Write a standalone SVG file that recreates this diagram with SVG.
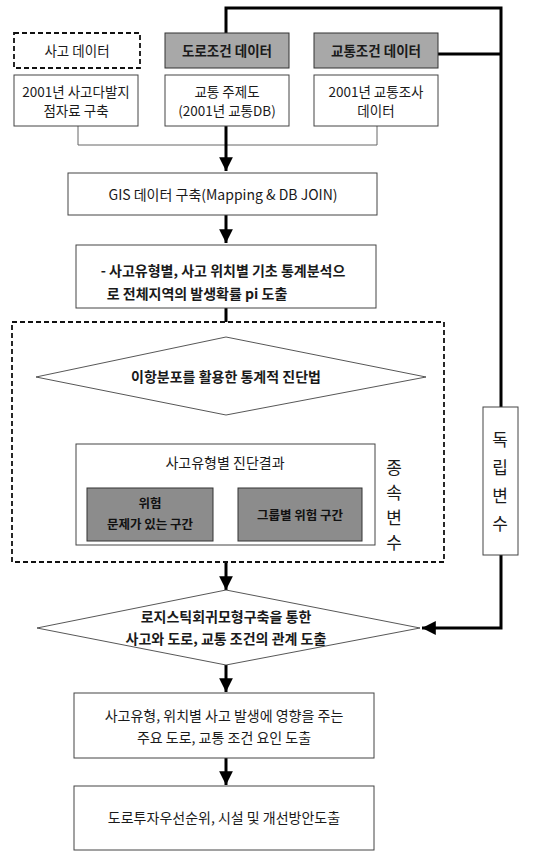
<svg xmlns="http://www.w3.org/2000/svg" width="542" height="852" viewBox="0 0 542 852">
<style>
  text { font-family: "Noto Sans CJK KR", "Noto Sans", sans-serif; fill: #1a1a1a; font-size: 13.5px; text-anchor: middle; }
  .box { fill: #ffffff; stroke: #444; stroke-width: 1; }
  .dash { fill: #ffffff; stroke: #111; stroke-width: 1.8; stroke-dasharray: 5 3; }
  .gray { fill: #a8a8a8; stroke: #333; stroke-width: 1; }
  .dgray { fill: #8c8c8c; stroke: #333; stroke-width: 1; }
  .dia { fill: #ffffff; stroke: #444; stroke-width: 0.9; }
  .thick { fill: none; stroke: #000; stroke-width: 3; }
  .thin { fill: none; stroke: #333; stroke-width: 1; }
  .merge { fill: none; stroke: #666; stroke-width: 1; }
  .b { font-weight: bold; }
  .s { font-size: 12.5px; font-weight: bold; fill: #111; }
</style>
<defs>
  <marker id="ah" viewBox="0 0 10 10" refX="10" refY="5" markerWidth="4.6" markerHeight="4.6" markerUnits="strokeWidth" orient="auto">
    <path d="M0,0 L10,5 L0,10 z" fill="#000"/>
  </marker>
  <marker id="ahs" viewBox="0 0 10 10" refX="10" refY="5" markerWidth="9" markerHeight="9" markerUnits="strokeWidth" orient="auto">
    <path d="M0,1 L10,5 L0,9 z" fill="#000"/>
  </marker>
</defs>

<g id="connectors">
  <path class="thick" d="M226,33 V8 H501 V628 H422" marker-end="url(#ah)"/>
  <path class="thick" d="M438,54 H501"/>
  <path class="merge" d="M78,126 V145 H377 V126"/>
  <path class="thick" d="M226,126 V171" marker-end="url(#ah)"/>
  <path class="thick" d="M226,215 V243" marker-end="url(#ah)"/>
  <path class="thick" d="M226,308 V336" marker-end="url(#ah)"/>
  <path class="thin" d="M226,415 V443" marker-end="url(#ahs)"/>
  <path class="thick" d="M226,562 V590" marker-end="url(#ah)"/>
  <path class="thick" d="M226,665 V692" marker-end="url(#ah)"/>
  <path class="thick" d="M226,758 V785" marker-end="url(#ah)"/>
</g>

<g id="accident-data">
  <rect class="dash" x="14" y="33" width="126" height="35"/>
  <text x="77" y="56">사고 데이터</text>
</g>
<g id="road-data">
  <rect class="gray" x="165" y="33" width="124" height="35"/>
  <text x="227" y="56" class="b">도로조건 데이터</text>
</g>
<g id="traffic-data">
  <rect class="gray" x="314" y="33" width="124" height="35"/>
  <text x="376" y="56" class="b">교통조건 데이터</text>
</g>
<g id="accident-source">
  <rect class="box" x="14" y="75" width="124" height="51"/>
  <text x="76" y="97">2001년 사고다발지</text>
  <text x="76" y="116">점자료 구축</text>
</g>
<g id="road-source">
  <rect class="box" x="165" y="75" width="124" height="51"/>
  <text x="227" y="97">교통 주제도</text>
  <text x="227" y="116">(2001년 교통DB)</text>
</g>
<g id="traffic-source">
  <rect class="box" x="314" y="75" width="124" height="51"/>
  <text x="376" y="97">2001년 교통조사</text>
  <text x="376" y="116">데이터</text>
</g>
<g id="gis">
  <rect class="box" x="68" y="173" width="309" height="42"/>
  <text x="223" y="200" style="font-size:14px">GIS 데이터 구축(Mapping &amp; DB JOIN)</text>
</g>
<g id="stats">
  <rect class="box" x="76" y="245" width="300" height="63"/>
  <text x="223" y="276" class="b" style="font-size:14px">- 사고유형별, 사고 위치별 기초 통계분석으</text>
  <text x="197" y="299" class="b" style="font-size:14px">로  전체지역의 발생확률 pi 도출</text>
</g>
<g id="dependent-group">
  <rect class="dash" x="12" y="322" width="432" height="240"/>
  <text x="394" y="474" style="font-size:17px">종</text>
  <text x="394" y="499" style="font-size:17px">속</text>
  <text x="394" y="524" style="font-size:17px">변</text>
  <text x="394" y="549" style="font-size:17px">수</text>
</g>
<g id="diagnosis">
  <polygon class="dia" points="226,337 426,377 226,415 36,377"/>
  <text x="226" y="382" class="b" style="font-size:14px">이항분포를 활용한 통계적 진단법</text>
</g>
<g id="result">
  <rect class="box" x="76" y="444" width="299" height="101"/>
  <text x="225" y="468" style="font-size:14px">사고유형별 진단결과</text>
  <rect class="dgray" x="87" y="488" width="126" height="53"/>
  <text x="150" y="508" class="s">위험</text>
  <text x="150" y="529" class="s">문제가 있는 구간</text>
  <rect class="dgray" x="238" y="488" width="124" height="53"/>
  <text x="300" y="520" class="s">그룹별 위험 구간</text>
</g>
<g id="independent">
  <rect class="box" x="483" y="407" width="35" height="148"/>
  <text x="500" y="446" style="font-size:17px">독</text>
  <text x="500" y="474" style="font-size:17px">립</text>
  <text x="500" y="502" style="font-size:17px">변</text>
  <text x="500" y="530" style="font-size:17px">수</text>
</g>
<g id="logistic">
  <polygon class="dia" points="226,590 420,628 226,665 37,628"/>
  <text x="226" y="622" class="b" style="font-size:14px">로지스틱회귀모형구축을 통한</text>
  <text x="226" y="644" class="b" style="font-size:14px">사고와 도로, 교통 조건의 관계 도출</text>
</g>
<g id="factors">
  <rect class="box" x="74" y="693" width="300" height="65"/>
  <text x="224" y="721" style="font-size:14px">사고유형, 위치별 사고 발생에 영향을 주는</text>
  <text x="224" y="743" style="font-size:14px">주요 도로, 교통 조건 요인 도출</text>
</g>
<g id="priority">
  <rect class="box" x="74" y="786" width="300" height="64"/>
  <text x="224" y="823" style="font-size:14px">도로투자우선순위, 시설 및 개선방안도출</text>
</g>
</svg>
